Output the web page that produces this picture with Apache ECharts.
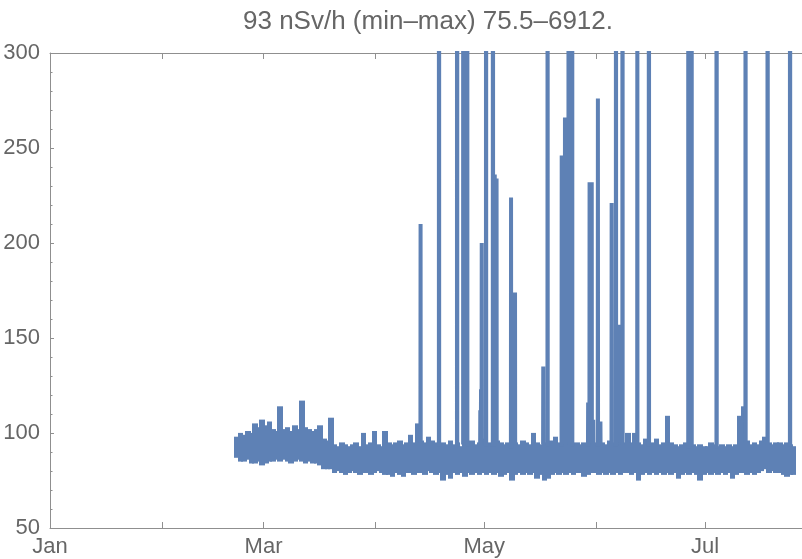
<!DOCTYPE html>
<html>
<head>
<meta charset="utf-8">
<script src="https://cdn.jsdelivr.net/npm/echarts@6/dist/echarts.min.js"></script>
<style>html,body{margin:0;padding:0;background:#fff}#c{width:802px;height:559px}</style>
</head>
<body>
<div id="c"></div>
<script>
// ---- data (day numbers counted from Jan 1 = 0) ----
const titleText = '93 nSv/h (min\u2013max) 75.5\u20136912.';
const monthStartDays = [0, 31, 59, 90, 120, 151, 181];
const monthTickLabels = ['Jan', '', 'Mar', '', 'May', '', 'Jul'];
const yTicks = [50, 100, 150, 200, 250, 300];

// daily band of the readings: first day, daily highs and daily lows
const bandStartDay = 51;
const bandHigh = [
  97, 99, 98, 100, 99, 104, 102, 106, 103, 105,
  101, 100, 113, 101, 102, 100, 103, 101, 116, 102,
  101, 100, 101, 103, 96, 95, 107, 93, 92, 94,
  93, 92, 93, 94, 92, 99, 93, 94, 100, 93,
  92, 100, 94, 93, 94, 95, 93, 94, 98, 94,
  104, 95, 94, 97, 95, 94, 93, 94, 93, 95,
  93, 94, 92, 94, 93, 95, 93, 94, 96, 93,
  94, 93, 95, 94, 93, 94, 92, 94, 93, 95,
  94, 93, 99, 94, 93, 94, 93, 95, 97, 94,
  93, 94, 95, 93, 94, 93, 94, 93, 95, 94,
  93, 94, 93, 95, 94, 93, 95, 94, 99, 94,
  99, 94, 93, 96, 93, 94, 96, 93, 94, 108,
  94, 93, 92, 93, 94, 92, 93, 92, 93, 92,
  92, 94, 93, 92, 93, 92, 93, 92, 93, 108,
  113, 95, 93, 94, 93, 95, 97, 94, 93, 94,
  94, 93, 94, 93, 92
];
const bandLow = [
  88, 86, 86, 87, 85, 85, 86, 84, 85, 86,
  86, 87, 86, 87, 86, 85, 86, 87, 86, 85,
  86, 85, 85, 84, 82, 82, 82, 80, 81, 80,
  79, 80, 81, 80, 79, 80, 80, 79, 80, 81,
  80, 79, 79, 78, 80, 79, 78, 80, 80, 79,
  80, 80, 79, 81, 80, 79, 80, 76, 79, 77,
  80, 79, 80, 78, 80, 79, 80, 79, 80, 79,
  80, 79, 80, 78, 79, 80, 76, 79, 80, 79,
  80, 79, 80, 77, 79, 76, 77, 79, 80, 79,
  80, 79, 80, 79, 80, 80, 78, 79, 80, 80,
  79, 80, 79, 80, 79, 80, 79, 80, 80, 79,
  80, 76, 79, 80, 79, 80, 79, 80, 79, 80,
  79, 80, 77, 79, 80, 79, 80, 79, 76, 79,
  80, 79, 80, 79, 80, 79, 80, 77, 79, 80,
  80, 79, 80, 79, 80, 81, 82, 80, 81, 80,
  80, 79, 78, 79, 79
];
// short excursions above the band: time (day) and peak value
const spikeDays = [
  102.4, 107.5, 112.5, 114.2, 115.3, 118.9, 119.1, 119.3, 120.5, 122.4,
  122.9, 123.4, 127.4, 128.5, 136.3, 137.5, 141.4, 142.3, 143.3, 144.3,
  148.7, 149.1, 149.7, 150.1, 151.4, 152.1, 155.2, 156.4, 157.5, 158.2,
  159.2, 162.3, 165.5, 176.4, 177.3, 184.2, 192.2, 198.3, 204.5
];
const spikeValues = [
  210, 1850, 6912, 2400, 1500, 112, 123, 200, 760, 1320,
  236, 234, 224, 174, 135, 540, 246, 266, 1100, 700,
  116, 232, 232, 107, 276, 106, 221, 650, 157, 1100,
  99, 390, 1700, 2900, 1250, 3100, 600, 2100, 1400
];

// ---- build series data ----
const bandData = bandHigh.map((h, i) => [bandStartDay + i, bandLow[i], h]);
const spikePts = [];
spikeDays.forEach((d, i) => {
  const base = bandHigh[Math.min(bandHigh.length - 1, Math.max(0, Math.floor(d) - bandStartDay))];
  spikePts.push([d - 0.04, base], [d, spikeValues[i]], [d + 0.04, base], [d + 0.05, '-']);
});

const labelDays = monthStartDays.filter((d, i) => monthTickLabels[i] !== '');
const fontFam = '"Liberation Sans", Arial, sans-serif';
const textColor = '#666666';
const axisColor = '#8f8f8f';
const lineColor = '#5E81B5';
const lineW = 4;

const chart = echarts.init(document.getElementById('c'), null, {renderer: 'canvas'});
chart.setOption({
  animation: false,
  backgroundColor: '#ffffff',
  title: {
    text: titleText,
    left: 238, top: 4,
    textStyle: {fontFamily: fontFam, fontSize: 26, fontWeight: 'normal', color: textColor}
  },
  grid: {left: 50, right: 0, top: 53, bottom: 31, containLabel: false},
  xAxis: [{
    type: 'value', min: 0, max: 207.8, position: 'bottom',
    axisLine: {show: true, lineStyle: {color: axisColor, width: 1}},
    axisTick: {show: true, inside: true, length: 6, customValues: monthStartDays, lineStyle: {color: axisColor}},
    axisLabel: {
      show: true, customValues: labelDays, margin: 8,
      formatter: v => monthTickLabels[monthStartDays.indexOf(Math.round(v))] || '',
      fontFamily: fontFam, fontSize: 22, color: textColor
    },
    splitLine: {show: false}
  }, {
    type: 'value', min: 0, max: 207.8, position: 'top',
    axisLine: {show: true, lineStyle: {color: axisColor, width: 1}},
    axisTick: {show: true, inside: true, length: 6, customValues: monthStartDays, lineStyle: {color: axisColor}},
    axisLabel: {show: false},
    splitLine: {show: false}
  }],
  yAxis: {
    type: 'value', min: yTicks[0], max: yTicks[yTicks.length - 1], interval: 50,
    axisLine: {show: true, lineStyle: {color: axisColor, width: 1}},
    axisTick: {show: true, inside: true, length: 4, lineStyle: {color: axisColor}},
    minorTick: {show: true, splitNumber: 5, length: 2.5, lineStyle: {color: axisColor}},
    axisLabel: {margin: 10, fontFamily: fontFam, fontSize: 22, color: textColor},
    splitLine: {show: false}
  },
  series: [{
    name: 'band', type: 'custom', xAxisIndex: 0, data: bandData,
    encode: {x: 0, y: [1, 2]},
    renderItem: function (params, api) {
      const d = api.value(0);
      const pTop = api.coord([d, api.value(2)]);
      const pBot = api.coord([d + 1, api.value(1)]);
      const last = params.dataIndex === bandHigh.length - 1;
      return {
        type: 'rect',
        shape: {
          x: Math.floor(pTop[0]), y: pTop[1] - lineW / 2,
          width: Math.ceil(pBot[0]) - Math.floor(pTop[0]) + (last ? 0 : 1),
          height: pBot[1] - pTop[1] + lineW
        },
        style: {fill: lineColor, stroke: null}
      };
    },
    emphasis: {disabled: true}, z: 2
  }, {
    name: 'spikes', type: 'line', xAxisIndex: 0, data: spikePts,
    showSymbol: false, symbol: 'none', clip: true, connectNulls: false,
    lineStyle: {color: lineColor, width: lineW},
    emphasis: {disabled: true}, z: 3
  }]
});
</script>
</body>
</html>
